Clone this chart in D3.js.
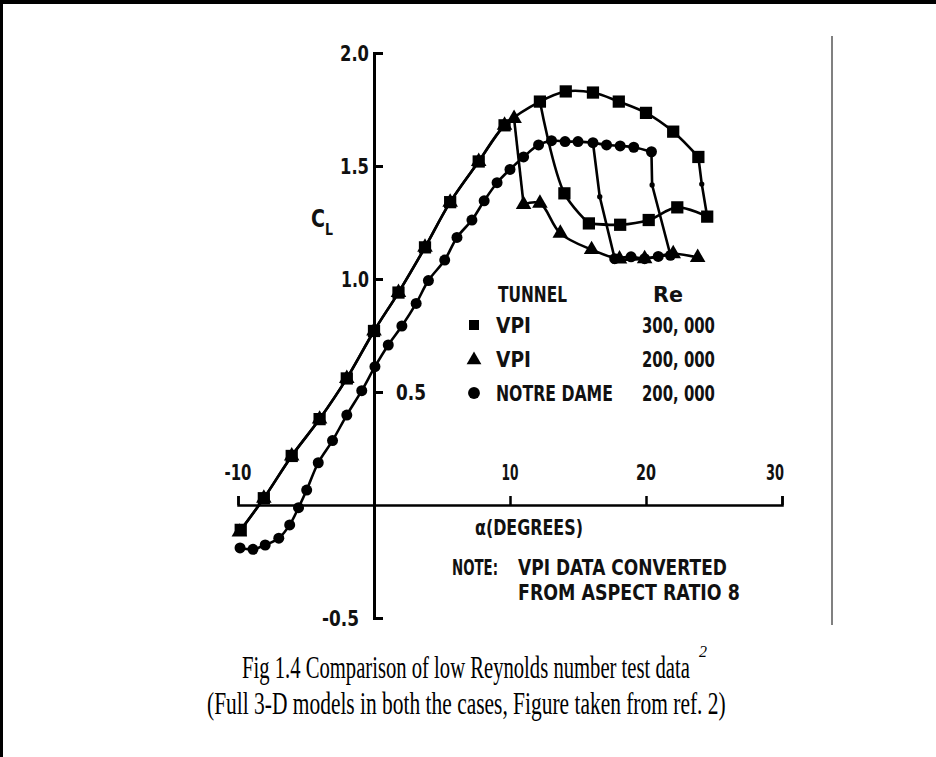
<!DOCTYPE html>
<html>
<head>
<meta charset="utf-8">
<script src="https://cdn.jsdelivr.net/npm/d3@7/dist/d3.min.js"></script>
<style>
  html, body { margin: 0; padding: 0; background: #fff; }
  svg { display: block; }
  .lbl { font-family: "Liberation Sans Narrow", "DejaVu Sans", sans-serif; font-weight: bold; fill: #111; }
  .cap { font-family: "Liberation Serif", "Times New Roman", serif; fill: #000; }
</style>
</head>
<body>
<svg id="chart" width="936" height="757"></svg>
<script>
// ---- tick values ----
const xTicks = [-10, 10, 20, 30];
const xTickLabels = ["-10", "10", "20", "30"];
const yTicks = [2.0, 1.5, 1.0, 0.5, -0.5];
const yTickLabels = ["2.0", "1.5", "1.0", "0.5", "-0.5"];

// ---- VPI, Re 300,000 (squares): [alpha deg, CL] ----
const vpi300Rise = [[-9.8,-0.11],[-8.1,0.03],[-6.05,0.217],[-4.0,0.38],[-2.0,0.56],[0.0,0.77],[1.8,0.94],[3.75,1.14],[5.6,1.34],[7.7,1.52],[9.6,1.68],[12.2,1.785],[14.1,1.83],[16.1,1.825],[18.0,1.785],[20.0,1.735],[22.0,1.652],[23.85,1.54]];
const vpi300Stall = [[23.85,1.54],[24.1,1.42],[24.5,1.276]];
const vpi300Return = [[24.5,1.276],[22.3,1.317],[20.2,1.261],[18.1,1.24],[15.8,1.246]];
const vpi300Reattach = [[15.8,1.246],[14.0,1.379],[12.2,1.785]];

// ---- VPI, Re 200,000 (triangles) ----
const vpi200Rise = [[-9.9,-0.12],[-8.1,0.03],[-6.05,0.217],[-4.0,0.38],[-2.0,0.56],[0.0,0.77],[1.8,0.94],[3.75,1.14],[5.6,1.34],[7.7,1.52],[9.6,1.68],[10.3,1.71]];
const vpi200Stall = [[10.3,1.71],[11.0,1.33]];
const vpi200Post = [[11.0,1.33],[12.2,1.335],[13.7,1.202],[16.0,1.13],[18.05,1.088],[19.9,1.09],[22.0,1.112],[23.8,1.095]];

// ---- Notre Dame, Re 200,000 (circles) ----
const ndRise = [[-9.85,-0.19],[-8.9,-0.196],[-8.0,-0.177],[-7.0,-0.147],[-6.2,-0.088],[-5.55,-0.012],[-4.95,0.066],[-4.1,0.187],[-3.05,0.285],[-2.0,0.398],[-0.9,0.506],[0.07,0.612],[1.05,0.708],[2.05,0.792],[3.1,0.892],[4.0,0.993],[5.2,1.084],[6.1,1.184],[7.2,1.261],[8.1,1.346],[9.05,1.426],[10.0,1.485],[11.0,1.54],[12.1,1.593],[13.05,1.612],[14.05,1.608],[15.0,1.608],[16.1,1.603],[17.1,1.593],[18.1,1.589],[19.1,1.583],[20.4,1.563]];
const ndStall = [[20.4,1.563],[20.45,1.416],[21.8,1.105]];
const ndReturn = [[21.8,1.105],[20.9,1.1],[19.9,1.09],[18.9,1.098],[17.7,1.09]];
const ndReattach = [[17.7,1.09],[16.6,1.364],[16.1,1.603]];

// ---- legend ----
const legendTunnel = ["VPI", "VPI", "NOTRE DAME"];
const legendRe = ["300, 000", "200, 000", "200, 000"];

const svg = d3.select("#chart");
const W = 936, H = 757;

svg.append("rect").attr("width", W).attr("height", H).attr("fill", "#fff");

// page frame: rule at top and left, thin rule at right of figure
svg.append("line").attr("x1", 0).attr("x2", W).attr("y1", 2).attr("y2", 2)
  .attr("stroke", "#000").attr("stroke-width", 4);
svg.append("line").attr("x1", 1.5).attr("x2", 1.5).attr("y1", 0).attr("y2", H)
  .attr("stroke", "#000").attr("stroke-width", 3);
svg.append("line").attr("x1", 832).attr("x2", 832).attr("y1", 36).attr("y2", 625)
  .attr("stroke", "#808080").attr("stroke-width", 2);

const x = d3.scaleLinear().domain([-10, 30]).range([238, 782]);
const y = d3.scaleLinear().domain([-0.5, 2.0]).range([618, 53]);

// condensed lettering: text is measured, then squeezed horizontally to its drawn width
function squeezed(cls, str, px, py, size, width, anchor) {
  const g = svg.append("g");
  const t = g.append("text").attr("class", cls).attr("font-size", size).text(str);
  const natural = t.node().getComputedTextLength();
  const sx = width ? width / natural : 1;
  const w = natural * sx;
  const left = anchor === "middle" ? px - w / 2 : anchor === "end" ? px - w : px;
  g.attr("transform", `translate(${left},${py}) scale(${sx},1)`);
  return g;
}
const label = (str, px, py, size, width, anchor) => squeezed("lbl", str, px, py, size, width, anchor);

// x axis along CL = 0, ticks pointing up
const xAxis = svg.append("g").attr("transform", `translate(0,${y(0)})`)
  .call(d3.axisTop(x).tickValues(xTicks).tickSize(9).tickSizeOuter(9).tickFormat(""));
xAxis.selectAll("path,line").attr("stroke", "#000").attr("stroke-width", 2.5);

const xLabelW = [27, 17, 20, 18];
xTicks.forEach((v, i) => {
  label(xTickLabels[i], x(v) - (v === 30 ? 7 : 0), y(0) - 25, 21, xLabelW[i], "middle");
});

// y axis along alpha = 0, ticks pointing right
const yAxis = svg.append("g").attr("transform", `translate(${x(0)},0)`)
  .call(d3.axisRight(y).tickValues(yTicks).tickSize(9).tickSizeOuter(9).tickFormat(""));
yAxis.selectAll("path,line").attr("stroke", "#000").attr("stroke-width", 3);

const yLabelW = [29, 29, 28, 30, 37];
yTicks.forEach((v, i) => {
  const right = v === 0.5;
  label(yTickLabels[i], right ? x(0) + 22 : x(0) - (v < 0 ? 15 : 5), y(v) + 8, 22,
        yLabelW[i], right ? "start" : "end");
});

// axis titles
label("C", 311, 227, 25, 14);
label("L", 325, 235, 15, 8);
label("α(DEGREES)", 475, 535, 21, 108);

// note
label("NOTE:", 452, 575, 21, 46);
label("VPI DATA CONVERTED", 518, 575, 21, 209);
label("FROM ASPECT RATIO 8", 518, 600, 21, 222);

// curves
const smooth = d3.line().x(d => x(d[0])).y(d => y(d[1])).curve(d3.curveCatmullRom.alpha(0.5));
const straight = d3.line().x(d => x(d[0])).y(d => y(d[1]));
const curves = [
  [vpi300Rise, smooth], [vpi300Stall, straight], [vpi300Return, smooth], [vpi300Reattach, smooth],
  [vpi200Rise, smooth], [vpi200Stall, straight], [vpi200Post, smooth],
  [ndRise, smooth], [ndStall, straight], [ndReturn, smooth], [ndReattach, straight]
];
const lines = svg.append("g").attr("fill", "none").attr("stroke", "#000")
  .attr("stroke-width", 2.6).attr("stroke-linejoin", "round");
curves.forEach(([data, gen]) => lines.append("path").attr("d", gen(data)));

// markers
const triSym = d3.symbol().type(d3.symbolTriangle).size(105);
const sqSym = d3.symbol().type(d3.symbolSquare).size(150);
const ciSym = d3.symbol().type(d3.symbolCircle).size(95);
const dotSym = d3.symbol().type(d3.symbolCircle).size(22);

function markers(data, sym) {
  svg.append("g").selectAll("path").data(data).join("path")
    .attr("d", sym)
    .attr("transform", d => `translate(${x(d[0])},${y(d[1])})`)
    .attr("fill", "#000");
}
// intermediate readings along transition lines drawn as small dots
const inner = arr => arr.slice(1, -1);

markers(vpi200Rise, triSym);
markers(vpi200Post, triSym);
markers(vpi300Rise, sqSym);
markers(vpi300Return, sqSym);
markers(inner(vpi300Reattach), sqSym);
markers(inner(vpi300Stall), dotSym);
markers(ndRise, ciSym);
markers(ndReturn, ciSym);
markers(inner(ndStall), dotSym);
markers(inner(ndReattach), dotSym);

// legend
const legY = [325, 359, 393];
label("TUNNEL", 498, 302, 21, 69);
label("Re", 653, 302, 21, 30);
const legSyms = [d3.symbol().type(d3.symbolSquare).size(100), d3.symbol().type(d3.symbolTriangle).size(95), d3.symbol().type(d3.symbolCircle).size(110)];
const tunnelW = [35, 35, 117];
legendTunnel.forEach((t, i) => {
  svg.append("path").attr("d", legSyms[i]).attr("fill", "#000")
    .attr("transform", `translate(${474},${legY[i] + (i === 1 ? 1 : 0)})`);
  label(t, 496, legY[i] + 8, 21, tunnelW[i]);
  label(legendRe[i], 715, legY[i] + 8, 21, 73, "end");
});

// caption
squeezed("cap", "Fig 1.4 Comparison of low Reynolds number test data", 242, 678, 31, 448);
svg.append("text").attr("class", "cap").attr("x", 699).attr("y", 657).attr("font-size", 16)
  .attr("font-style", "italic").text("2");
squeezed("cap", "(Full 3-D models in both the cases, Figure taken from ref. 2)", 207, 714, 31, 519);
</script>
</body>
</html>
